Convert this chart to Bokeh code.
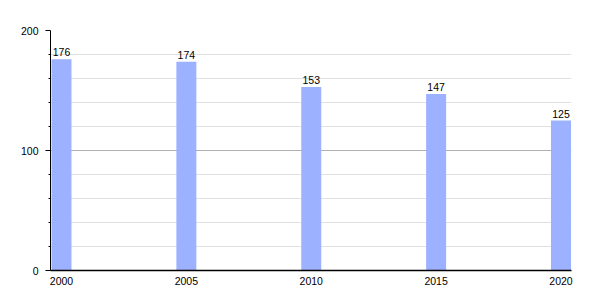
from bokeh.plotting import figure
from bokeh.models import ColumnDataSource, FixedTicker, LinearAxis, Range1d
from bokeh.embed import file_html
from bokeh.resources import INLINE

years = [2000, 2005, 2010, 2015, 2020]
population = [176, 174, 153, 147, 125]
y_major = [0, 100, 200]
y_minor = [20, 40, 60, 80, 120, 140, 160, 180]

src = ColumnDataSource(dict(x=years, top=population, label=[str(v) for v in population]))

p = figure(width=600, height=300, output_backend="svg", toolbar_location=None,
           x_range=Range1d(1999.56, 2020.42), y_range=Range1d(0, 200),
           min_border_left=50, min_border_right=29, min_border_top=30, min_border_bottom=30,
           x_axis_location=None, y_axis_location=None)
p.outline_line_color = None
p.background_fill_color = "white"
p.border_fill_color = "white"

# grid lines
p.xgrid.visible = False
p.ygrid.ticker = FixedTicker(ticks=y_major, minor_ticks=y_minor)
p.ygrid.grid_line_color = "#b0b0b0"
p.ygrid.grid_line_width = 1
p.ygrid.minor_grid_line_color = "#e0e0e0"
p.ygrid.minor_grid_line_width = 1

p.vbar(x="x", top="top", width=0.8, bottom=0, source=src,
       fill_color="#9cb1ff", line_color=None)

p.text(x="x", y="top", text="label", source=src, text_align="center",
       text_baseline="bottom", y_offset=-3, text_font_size="10.5px",
       text_font={"value": "Liberation Sans"}, text_color="black")

yaxis = LinearAxis(ticker=FixedTicker(ticks=y_major, minor_ticks=y_minor))
yaxis.axis_line_color = "black"
yaxis.major_tick_line_color = "black"
yaxis.minor_tick_line_color = "black"
yaxis.major_tick_out = 5
yaxis.major_tick_in = 0
yaxis.minor_tick_out = 2
yaxis.minor_tick_in = 0
yaxis.major_label_text_font = "Liberation Sans"
yaxis.major_label_text_font_size = "10.5px"
yaxis.major_label_text_color = "black"
yaxis.major_label_standoff = 7
p.add_layout(yaxis, "left")

xaxis = LinearAxis(ticker=FixedTicker(ticks=years, minor_ticks=[]))
xaxis.axis_line_color = "black"
xaxis.axis_line_width = 1.5
xaxis.major_tick_line_color = None
xaxis.minor_tick_line_color = None
xaxis.major_label_text_font = "Liberation Sans"
xaxis.major_label_text_font_size = "10.5px"
xaxis.major_label_text_color = "black"
xaxis.major_label_standoff = 0
p.add_layout(xaxis, "below")

open("out.html", "w").write(file_html(p, INLINE))
